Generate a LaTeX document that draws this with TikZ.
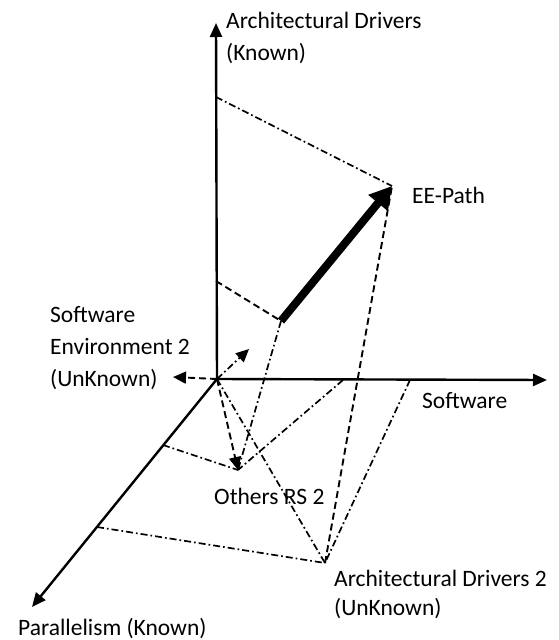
\documentclass[tikz,border=0pt]{standalone}
\usepackage{fontspec}
\setmainfont{Carlito}
\usetikzlibrary{arrows.meta}

\begin{document}
\begin{tikzpicture}[x=1pt,y=-1pt,
  axis/.style={line width=2.4pt,-{Triangle[length=14pt,width=12pt]}},
  dashline/.style={line width=1.9pt,dash pattern=on 7pt off 4pt},
  dotline/.style={line width=1.7pt,dash pattern=on 7pt off 3pt on 1.7pt off 3pt},
  smalltip/.style={-{Triangle[length=13pt,width=12pt]}},
  lbl/.style={inner sep=0,anchor=base west,align=left,font=\fontsize{23.5}{32}\selectfont}]
\useasboundingbox (0,0) rectangle (558,640);

% axes
\coordinate (O) at (217,379);
\coordinate (ADtop) at (216,23);
\coordinate (SWtip) at (547,380);
\coordinate (PLtip) at (32,607);

% points on the axes
\coordinate (A1) at (216,97);
\coordinate (A2) at (216,281);
\coordinate (P1) at (163,445);
\coordinate (P2) at (97,527);
\coordinate (S1) at (343,380);
\coordinate (S2) at (410,380);

% vector ends
\coordinate (SE2) at (173,377);
\coordinate (up) at (249,349);
\coordinate (RS) at (238,470);
\coordinate (AD2) at (325,563);
\coordinate (EEs) at (281,321);
\coordinate (EEe) at (392,186);

\draw[axis] (O)--(ADtop);
\draw[axis] (O)--(SWtip);
\draw[axis] (O)--(PLtip);

\draw[dashline,smalltip] (O)--(SE2);
\draw[dotline,smalltip] (O)--(up);
\draw[dashline,smalltip] (O)--(RS);

% projections
\draw[dotline] (A1)--(EEe);
\draw[dashline] (A2)--(EEs);
\draw[dotline] (EEs)--(RS);
\draw[dotline] (P1)--(RS);
\draw[dotline] (S1)--(RS);
\draw[dotline] (O)--(AD2);
\draw[dotline] (P2)--(AD2);
\draw[dotline] (S2)--(AD2);
\draw[dashline] (AD2)--(EEe);

\draw[line width=8pt,-{Triangle[length=22pt,width=24pt]}] (EEs)--(EEe);

% labels (base = last line)
\node[lbl] (adk) at (226,60) {Architectural Drivers\\(Known)};
\node[lbl] (ee) at (412,203) {EE-Path};
\node[lbl] (se2) at (50,386) {Software\\Environment 2\\(UnKnown)};
\node[lbl] (sw) at (422,408) {Software};
\node[lbl] (rs2) at (214,504) {Others RS 2};
\node[lbl,font=\fontsize{23.5}{29}\selectfont] (ad2) at (334,615) {Architectural Drivers 2\\(UnKnown)};
\node[lbl] (pl) at (18,635) {Parallelism (Known)};

\end{tikzpicture}
\end{document}
